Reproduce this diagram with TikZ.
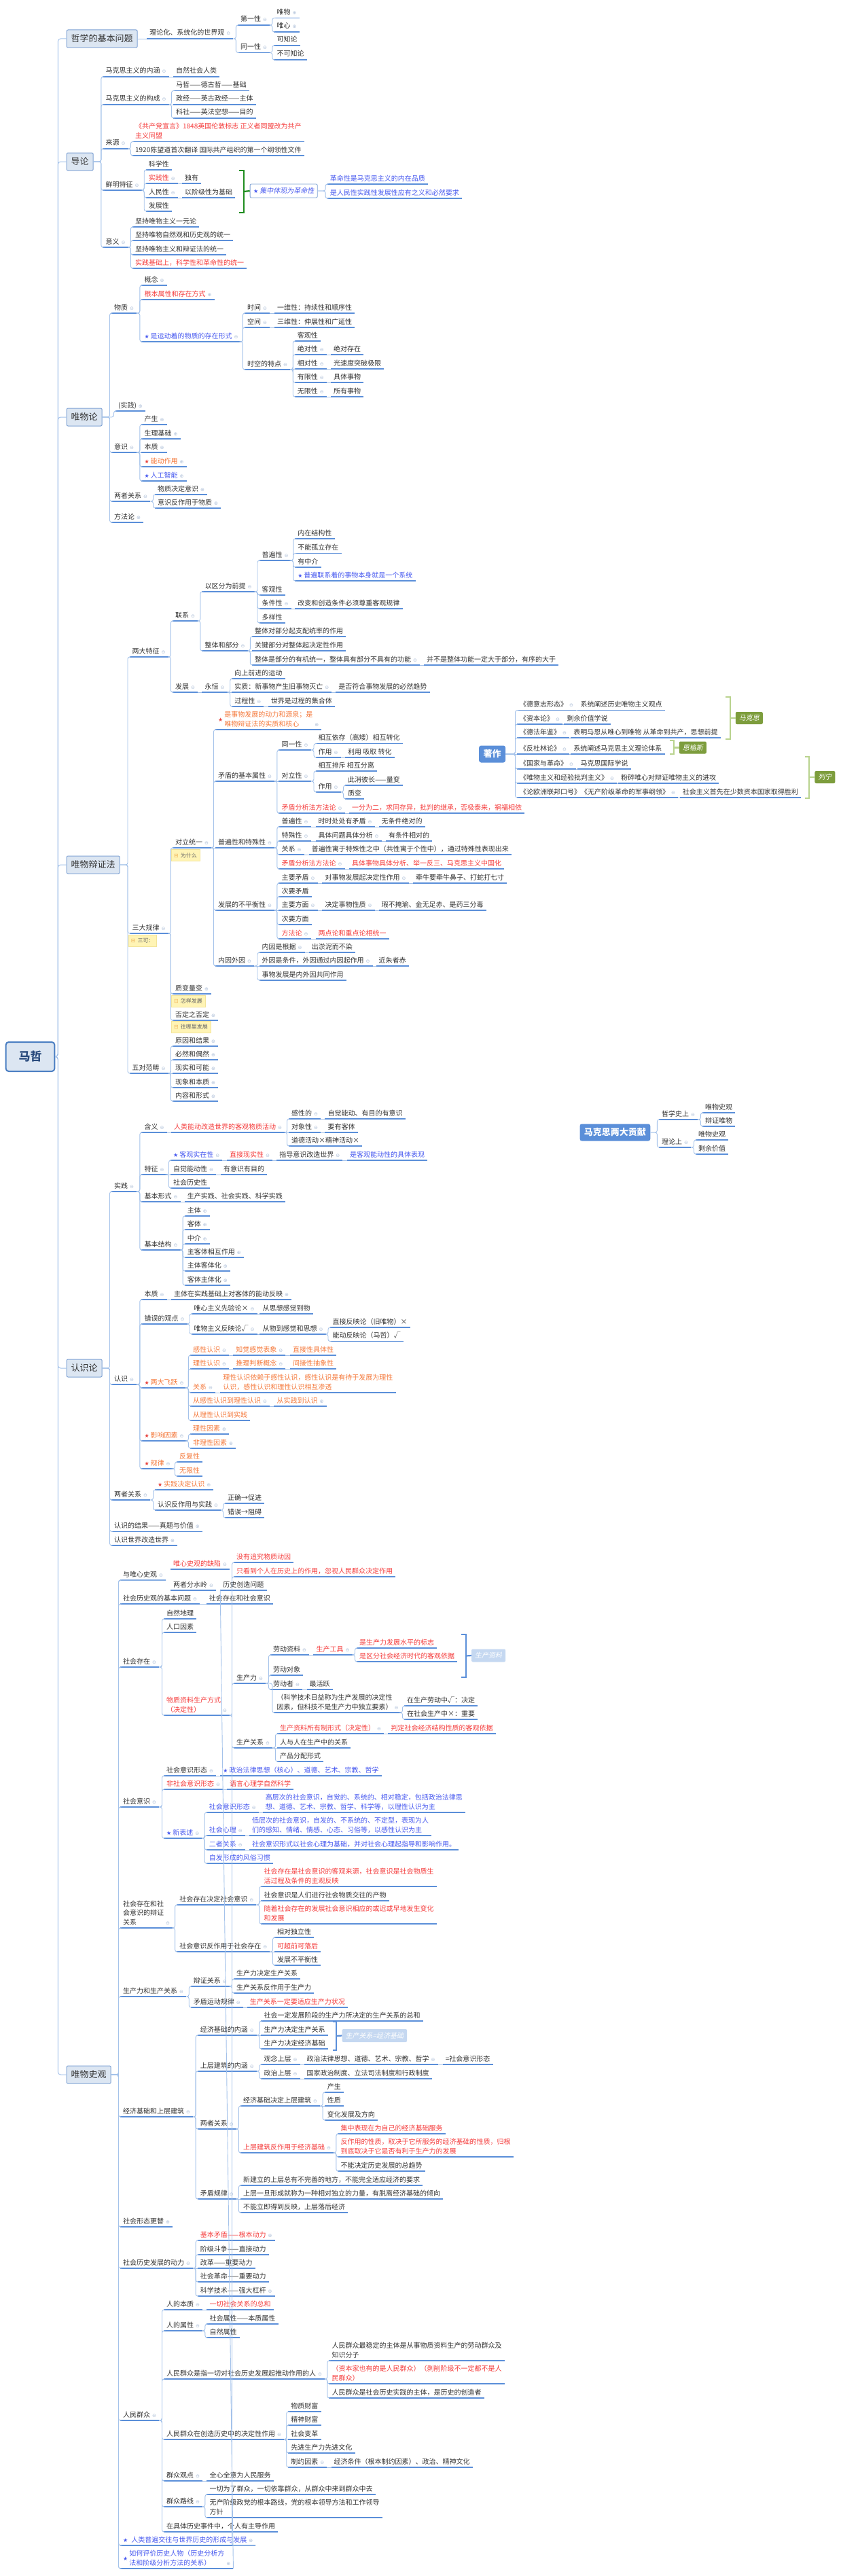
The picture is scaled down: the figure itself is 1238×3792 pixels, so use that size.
\documentclass[tikz,border=0pt]{standalone}
\usepackage{fontspec}
\setmainfont{Noto Sans CJK SC}
\newfontfamily\djv{DejaVu Sans}
\newfontfamily\cjkit{Noto Sans CJK SC}[FakeSlant=0.2]
\definecolor{tx}{HTML}{333333}
\definecolor{rd}{HTML}{F53B3B}
\definecolor{og}{HTML}{F5793B}
\definecolor{bl}{HTML}{4658F0}
\definecolor{strc}{HTML}{E8403A}
\definecolor{ulc}{HTML}{5B8FD9}
\definecolor{cnc}{HTML}{A4C2EA}
\definecolor{mkc}{HTML}{AFC0D9}
\definecolor{boxf}{HTML}{DCE6F2}
\definecolor{boxd}{HTML}{7FA2D4}
\definecolor{rootd}{HTML}{4A7EC2}
\definecolor{rootT}{HTML}{2B4C7E}
\definecolor{gd}{HTML}{1E8C1E}
\definecolor{gl}{HTML}{B9D38E}
\definecolor{gf}{HTML}{7D9D3D}
\definecolor{lbf}{HTML}{C5D8F1}
\definecolor{nf}{HTML}{FFF4B5}
\definecolor{ndc}{HTML}{F3E49A}
\definecolor{nic}{HTML}{F0B860}
\definecolor{sbf}{HTML}{5B8FD9}
\newcommand\MKo{\hspace{3pt}{\djv\fontsize{7}{7}\selectfont\textcolor{mkc}{⊖}}}
\newcommand\MKp{\hspace{3pt}{\djv\fontsize{7}{7}\selectfont\textcolor{mkc}{⊕}}}
\newcommand\STr{{\djv\fontsize{8}{8}\selectfont\textcolor{strc}{★}}\hspace{2pt}}
\newcommand\STb{{\djv\fontsize{8}{8}\selectfont\textcolor{bl}{★}}\hspace{2pt}}
\newcommand\NTi{{\djv\fontsize{8}{8}\selectfont\textcolor{nic}{⊟}}\hspace{3pt}}
\newcommand\MLi[1]{\begin{tabular}[b]{@{}l@{}}#1\end{tabular}}
\tikzset{
 tn/.style={anchor=base west, inner xsep=4pt, inner ysep=1pt, font=\fontsize{10}{13.5}\selectfont, text=tx},
 rdT/.style={text=rd}, ogT/.style={text=og}, blT/.style={text=bl},
 ulst/.style={draw=ulc, line width=1.5pt},
 cnst/.style={draw=cnc, line width=0.9pt, rounded corners=3pt},
 trk/.style={draw=cnc, line width=1pt, rounded corners=4pt},
 mbox/.style={draw=boxd, fill=boxf, line width=1pt, rounded corners=2pt, anchor=west, minimum height=26pt, inner xsep=6.5pt, font=\fontsize{13}{13}\selectfont, text=tx},
 sbox/.style={fill=sbf, rounded corners=3pt, anchor=west, minimum height=25pt, inner xsep=6.4pt, font=\bfseries\fontsize{13}{13}\selectfont, text=white},
 rootst/.style={draw=rootd, fill=boxf, line width=2pt, rounded corners=4pt, minimum width=71.6pt, minimum height=43pt, font=\bfseries\fontsize{17}{17}\selectfont, text=rootT},
 jbox/.style={draw=boxd, fill=white, line width=0.8pt, rounded corners=2pt, anchor=west, minimum height=20pt, inner xsep=5pt, text=bl, font=\fontsize{10}{10}\selectfont},
 ntbox/.style={fill=nf, draw=ndc, line width=0.5pt, anchor=west, minimum height=17pt, inner xsep=4pt, inner ysep=0pt, font=\fontsize{8}{8}\selectfont, text=black!60},
 lblg/.style={fill=gf, rounded corners=2pt, anchor=west, minimum height=18pt, inner xsep=5pt, font=\cjkit\fontsize{10}{10}\selectfont, text=white},
 lblb/.style={fill=lbf, rounded corners=2pt, anchor=west, minimum height=19pt, inner xsep=5pt, font=\cjkit\fontsize{10}{10}\selectfont, text=white},
 brg/.style={draw=gl, line width=2.2pt},
 brd/.style={draw=gd, line width=2.2pt},
 brb/.style={draw=ulc, line width=2.2pt},
}
\newcommand\ND[5][]{\node[tn,#1] (#2) at (#3-4,#4-5) {#5};
 \draw[ulst] ([yshift=-5pt]#2.base west) -- ([yshift=-5pt]#2.base east);}
\newcommand\CNc[2]{\draw[cnst] ([yshift=-5pt]#1.base east) -| ([xshift=-2.5pt,yshift=-5pt]#2.base west) -- ([yshift=-5pt]#2.base west);}
\newcommand\CNs[2]{\draw[cnst] ([yshift=-5pt]#1.base east) -- ([yshift=-5pt]#2.base west);}
\newcommand\CNb[2]{\draw[cnst] (#1.east) -| ([xshift=-2.5pt,yshift=-5pt]#2.base west) -- ([yshift=-5pt]#2.base west);}
\newcommand\CNbs[2]{\draw[cnst] (#1.east) -- ([yshift=-5pt]#2.base west);}
\begin{document}
\begin{tikzpicture}[x=1pt,y=-1pt]
\fill[white] (0,0) rectangle (1238,3792);
\useasboundingbox (0,0) rectangle (1238,3792);

% root
\node[rootst] (root) at (44.5,1555.5) {马哲};

% ===== 哲学的基本问题
\node[mbox] (m1) at (97.7,57) {哲学的基本问题};
\ND{a1}{220.2}{57}{理论化、系统化的世界观\MKo}
\ND{a11}{353.9}{37}{第一性\MKo}
\ND{a111}{407.3}{26.5}{唯物\MKp}
\ND{a112}{407.3}{47}{唯心\MKp}
\ND{a12}{353.9}{77.5}{同一性\MKo}
\ND{a121}{407.3}{67}{可知论}
\ND{a122}{407.3}{88}{不可知论}

% ===== 导论
\node[mbox] (m2) at (97.7,238) {导论};
\ND{b1}{155.4}{113}{马克思主义的内涵\MKo}
\ND{b11}{259}{113}{自然社会人类}
\ND{b2}{155.4}{154}{马克思主义的构成\MKo}
\ND{b21}{259}{133.5}{马哲——德古哲——基础}
\ND{b22}{259}{154}{政经——英古政经——主体}
\ND{b23}{259}{174}{科社——英法空想——目的}
\ND{b3}{155.4}{219}{来源\MKo}
\ND[rdT]{b31}{198.9}{208.5}{\MLi{《共产党宣言》1848英国伦敦标志 正义者同盟改为共产\\主义同盟}}
\ND{b32}{198.9}{229}{1920陈望道首次翻译 国际共产组织的第一个纲领性文件}
\ND{b4}{155.4}{280}{鲜明特征\MKo}
\ND{b41}{218.7}{250}{科学性}
\ND[rdT]{b42}{218.7}{270}{实践性\MKo}
\ND{b421}{272}{270}{独有}
\ND{b43}{218.7}{291}{人民性\MKo}
\ND{b431}{272}{291}{以阶级性为基础}
\ND{b44}{218.7}{311}{发展性}
\ND{b5}{155.4}{364}{意义\MKo}
\ND{b51}{198.9}{334}{坚持唯物主义一元论}
\ND{b52}{198.9}{354}{坚持唯物自然观和历史观的统一}
\ND{b53}{198.9}{375}{坚持唯物主义和辩证法的统一}
\ND[rdT]{b54}{198.9}{395}{实践基础上，科学性和革命性的统一}
\node[jbox] (jz) at (367.7,281) {\STb{}{\cjkit 集中体现为革命性}};
\ND[blT]{j1}{485.6}{271}{革命性是马克思主义的内在品质}
\ND[blT]{j2}{485.6}{292}{是人民性实践性发展性应有之义和必然要求}
\draw[brd] (352,251) -- (359,251) -- (359,313) -- (352,313);
\draw[brd] (359,282) -- (jz.west);

% ===== 唯物论
\node[mbox] (m3) at (97.7,614) {唯物论};
\ND{c1}{168}{461}{物质\MKo}
\ND{c11}{212.3}{420}{概念\MKp}
\ND[rdT]{c12}{212.3}{441}{根本属性和存在方式\MKp}
\ND[blT]{c13}{212.3}{503}{\STb{}是运动着的物质的存在形式\MKo}
\ND{c131}{363.8}{461}{时间\MKo}
\ND{c1311}{408}{461}{一维性：持续性和顺序性}
\ND{c132}{363.8}{482}{空间\MKo}
\ND{c1321}{408}{482}{三维性：伸展性和广延性}
\ND{c133}{363.8}{544}{时空的特点\MKo}
\ND{c1331}{437.7}{502}{客观性}
\ND{c1332}{437.7}{522}{绝对性\MKo}
\ND{c13321}{491}{522}{绝对存在}
\ND{c1333}{437.7}{543}{相对性\MKo}
\ND{c13331}{491}{543}{光速度突破极限}
\ND{c1334}{437.7}{563}{有限性\MKo}
\ND{c13341}{491}{563}{具体事物}
\ND{c1335}{437.7}{584}{无限性\MKo}
\ND{c13351}{491}{584}{所有事物}
\ND{c2}{174}{605}{(实践)\MKp}
\ND{c3}{168}{666}{意识\MKo}
\ND{c31}{212.3}{625}{产生\MKp}
\ND{c32}{212.3}{646}{生理基础\MKp}
\ND{c33}{212.3}{666}{本质\MKp}
\ND[ogT]{c34}{212.3}{687}{\STr{}能动作用\MKp}
\ND[blT]{c35}{212.3}{708}{\STb{}人工智能\MKp}
\ND{c4}{168}{738}{两者关系\MKo}
\ND{c41}{232}{728}{物质决定意识\MKp}
\ND{c42}{232}{748}{意识反作用于物质\MKp}
\ND{c5}{168}{769}{方法论\MKp}

% ===== 唯物辩证法
\node[mbox] (m4) at (97.7,1273) {唯物辩证法};
\ND{d1}{194.5}{967}{两大特征\MKo}
\ND{d11}{257.8}{914}{联系\MKo}
\ND{d111}{301.3}{871}{以区分为前提\MKo}
\ND{d1111}{385.5}{825}{普遍性\MKo}
\ND{d11111}{438.1}{793}{内在结构性}
\ND{d11112}{438.1}{814.5}{不能孤立存在}
\ND{d11113}{438.1}{835}{有中介}
\ND[blT]{d11114}{438.1}{855}{\STb{}普遍联系着的事物本身就是一个系统}
\ND{d1112}{385.5}{876}{客观性}
\ND{d1113}{385.5}{896}{条件性\MKo}
\ND{d11131}{438.1}{896}{改变和创造条件必须尊重客观规律}
\ND{d1114}{385.5}{917}{多样性}
\ND{d112}{301.3}{958}{整体和部分\MKo}
\ND{d1121}{374.8}{937}{整体对部分起支配统率的作用}
\ND{d1122}{374.8}{958}{关键部分对整体起决定性作用}
\ND{d1123}{374.8}{979}{整体是部分的有机统一，整体具有部分不具有的功能\MKo}
\ND{d11231}{627.9}{979}{并不是整体功能一定大于部分，有序的大于}
\ND{d12}{257.8}{1019}{发展\MKo}
\ND{d121}{301.3}{1019}{永恒\MKo}
\ND{d1211}{345.2}{999}{向上前进的运动}
\ND{d1212}{345.2}{1019}{实质：新事物产生旧事物灭亡\MKo}
\ND{d12121}{498.2}{1019}{是否符合事物发展的必然趋势}
\ND{d1213}{345.2}{1040}{过程性\MKo}
\ND{d12131}{398.6}{1040}{世界是过程的集合体}
\ND{d2}{194.5}{1374}{三大规律\MKo}
\ND{d21}{257.8}{1248}{对立统一\MKo}
\ND[ogT]{d211}{321}{1074}{\raisebox{6.75pt}{\STr}\MLi{是事物发展的动力和源泉；是\\唯物辩证法的实质和核心}\MKp}
\ND{d212}{321}{1150}{矛盾的基本属性\MKo}
\ND{d2121}{414.4}{1104}{同一性\MKo}
\ND{d21211}{468.5}{1094.5}{相互依存（高矮）相互转化}
\ND{d21212}{468.5}{1115}{作用\MKo}
\ND{d212121}{512}{1115}{利用 吸取 转化}
\ND{d2122}{414.4}{1150}{对立性\MKo}
\ND{d21221}{468.5}{1135}{相互排斥 相互分离}
\ND{d21222}{468.5}{1166}{作用\MKo}
\ND{d212221}{512}{1156}{此消彼长——量变}
\ND{d212222}{512}{1176}{质变}
\ND[rdT]{d2123}{414.4}{1197}{矛盾分析法方法论\MKo}
\ND[rdT]{d21231}{518}{1197}{一分为二，求同存异，批判的继承，否极泰来，祸福相依}
\ND{d213}{321}{1248}{普遍性和特殊性\MKo}
\ND{d2131}{414.4}{1217}{普遍性\MKo}
\ND{d21311}{468.5}{1217}{时时处处有矛盾\MKo}
\ND{d213111}{561.5}{1217}{无条件绝对的}
\ND{d2132}{414.4}{1238}{特殊性\MKo}
\ND{d21321}{468.5}{1238}{具体问题具体分析\MKo}
\ND{d213211}{572}{1238}{有条件相对的}
\ND{d2133}{414.4}{1258}{关系\MKo}
\ND{d21331}{458.7}{1258}{普遍性寓于特殊性之中（共性寓于个性中），通过特殊性表现出来}
\ND[rdT]{d2134}{414.4}{1279}{矛盾分析法方法论\MKo}
\ND[rdT]{d21341}{518}{1279}{具体事物具体分析、举一反三、马克思主义中国化}
\ND{d214}{321}{1340}{发展的不平衡性\MKo}
\ND{d2141}{414.4}{1300}{主要矛盾\MKo}
\ND{d21411}{478.4}{1300}{对事物发展起决定性作用\MKo}
\ND{d214111}{612}{1300}{牵牛要牵牛鼻子、打蛇打七寸}
\ND{d2142}{414.4}{1320}{次要矛盾}
\ND{d2143}{414.4}{1340}{主要方面\MKo}
\ND{d21431}{478.4}{1340}{决定事物性质\MKo}
\ND{d214311}{561.5}{1340}{瑕不掩瑜、金无足赤、是药三分毒}
\ND{d2144}{414.4}{1361}{次要方面}
\ND[rdT]{d2145}{414.4}{1382}{方法论\MKo}
\ND[rdT]{d21451}{468.5}{1382}{两点论和重点论相统一}
\ND{d215}{321}{1422}{内因外因\MKo}
\ND{d2151}{385.5}{1402}{内因是根据\MKo}
\ND{d21511}{458.7}{1402}{出淤泥而不染}
\ND{d2152}{385.5}{1422}{外因是条件，外因通过内因起作用\MKo}
\ND{d21521}{557.5}{1422}{近朱者赤}
\ND{d2153}{385.5}{1443}{事物发展是内外因共同作用}
\ND{d22}{257.8}{1463}{质变量变\MKp}
\ND{d23}{257.8}{1502}{否定之否定\MKp}
\ND{d3}{194.5}{1580}{五对范畴\MKo}
\ND{d31}{257.8}{1540}{原因和结果\MKp}
\ND{d32}{257.8}{1560}{必然和偶然\MKp}
\ND{d33}{257.8}{1580}{现实和可能\MKp}
\ND{d34}{257.8}{1601}{现象和本质\MKp}
\ND{d35}{257.8}{1621}{内容和形式\MKp}
\node[ntbox] (n1) at (188.6,1384.5) {\NTi{}三可：};
\node[ntbox] (n2) at (251.9,1259) {\NTi{}为什么};
\node[ntbox] (n3) at (251.9,1473.5) {\NTi{}怎样发展};
\node[ntbox] (n4) at (251.9,1511.5) {\NTi{}往哪里发展};

% ===== 著作
\node[sbox] (zz) at (705,1110) {著作};
\ND{e1}{765}{1045.5}{《德意志形态》\MKo}
\ND{e11}{854.4}{1045.5}{系统阐述历史唯物主义观点}
\ND{e2}{765}{1066}{《资本论》\MKo}
\ND{e21}{834.3}{1066}{剩余价值学说}
\ND{e3}{765}{1086}{《德法年鉴》\MKo}
\ND{e31}{844.2}{1086}{表明马恩从唯心到唯物 从革命到共产，思想前提}
\ND{e4}{765}{1110}{《反杜林论》\MKo}
\ND{e41}{844.2}{1110}{系统阐述马克思主义理论体系}
\ND{e5}{765}{1132}{《国家与革命》\MKo}
\ND{e51}{854.4}{1132}{马克思国际学说}
\ND{e6}{765}{1153}{《唯物主义和经验批判主义》\MKo}
\ND{e61}{913.8}{1153}{粉碎唯心对辩证唯物主义的进攻}
\ND{e7}{765}{1174}{《论欧洲联邦口号》《无产阶级革命的军事纲领》\MKo}
\ND{e71}{1004.7}{1174}{社会主义首先在少数资本国家取得胜利}
\node[lblg] (lk1) at (1082.6,1057) {马克思};
\node[lblg] (lk2) at (999.6,1100.5) {恩格斯};
\node[lblg] (lk3) at (1199.2,1144) {列宁};
\draw[brg] (1068,1026) -- (1074.7,1026) -- (1074.7,1088) -- (1068,1088);
\draw[brg] (1074.7,1057) -- (lk1.west);
\draw[brg] (985.7,1090) -- (991.7,1090) -- (991.7,1110) -- (985.7,1110);
\draw[brg] (991.7,1100.5) -- (lk2.west);
\draw[brg] (1185.4,1114) -- (1191.3,1114) -- (1191.3,1175) -- (1185.4,1175);
\draw[brg] (1191.3,1144) -- (lk3.west);

% ===== 马克思两大贡献
\node[sbox] (mk) at (853.3,1667) {马克思两大贡献};
\ND{f1}{973.9}{1648}{哲学史上\MKo}
\ND{f11}{1037.9}{1638}{唯物史观}
\ND{f12}{1037.9}{1658}{辩证唯物}
\ND{f2}{973.9}{1689}{理论上\MKo}
\ND{f21}{1028}{1678}{唯物史观}
\ND{f22}{1028}{1699}{剩余价值}

% ===== 认识论
\node[mbox] (m5) at (97.7,2014) {认识论};
\ND{g1}{168}{1754}{实践\MKo}
\ND{g11}{212.3}{1667}{含义\MKo}
\ND[rdT]{g111}{255.8}{1667}{人类能动改造世界的客观物质活动\MKo}
\ND{g1111}{429}{1647}{感性的\MKo}
\ND{g11111}{482.4}{1647}{自觉能动、有目的有意识}
\ND{g1112}{429}{1667}{对象性\MKo}
\ND{g11121}{482.4}{1667}{要有客体}
\ND{g1113}{429}{1687}{道德活动×精神活动×}
\ND{g12}{212.3}{1729}{特征\MKo}
\ND[blT]{g121}{255}{1708}{\STb{}客观实在性\MKo}
\ND[rdT]{g1211}{338}{1708}{直接现实性\MKo}
\ND{g12111}{411.2}{1708}{指导意识改造世界\MKo}
\ND[blT]{g121111}{514.8}{1708}{是客观能动性的具体表现}
\ND{g122}{255}{1729}{自觉能动性\MKo}
\ND{g1221}{329}{1729}{有意识有目的}
\ND{g123}{255}{1749}{社会历史性}
\ND{g13}{212.3}{1769}{基本形式\MKo}
\ND{g131}{275.6}{1769}{生产实践、社会实践、科学实践}
\ND{g14}{212.3}{1840}{基本结构\MKo}
\ND{g141}{275.6}{1790}{主体\MKp}
\ND{g142}{275.6}{1810}{客体\MKp}
\ND{g143}{275.6}{1831}{中介\MKp}
\ND{g144}{275.6}{1851}{主客体相互作用\MKp}
\ND{g145}{275.6}{1871}{主体客体化\MKp}
\ND{g146}{275.6}{1892}{客体主体化\MKp}
\ND{g2}{168}{2038}{认识\MKo}
\ND{g21}{212.3}{1913}{本质\MKo}
\ND{g211}{255.8}{1913}{主体在实践基础上对客体的能动反映\MKp}
\ND{g22}{212.3}{1949}{错误的观点\MKo}
\ND{g221}{285.5}{1934}{唯心主义先验论×\MKo}
\ND{g2211}{386.3}{1934}{从思想感觉到物}
\ND{g222}{285.5}{1964}{唯物主义反映论√\MKo}
\ND{g2221}{386.3}{1964}{从物到感觉和思想\MKo}
\ND{g22211}{489.5}{1954}{直接反映论（旧唯物）×}
\ND{g22212}{489.5}{1974.5}{能动反映论（马哲）√}
\ND[ogT]{g23}{212.3}{2043}{\STr{}两大飞跃\MKo}
\ND[ogT]{g231}{283.9}{1995}{感性认识\MKo}
\ND[ogT]{g2311}{347.2}{1995}{知觉感觉表象\MKo}
\ND[ogT]{g23111}{431}{1995}{直接性具体性}
\ND[ogT]{g232}{283.9}{2015}{理性认识\MKo}
\ND[ogT]{g2321}{347.2}{2015}{推理判断概念\MKo}
\ND[ogT]{g23211}{431}{2015}{间接性抽象性}
\ND[ogT]{g233}{283.9}{2050}{关系\MKo}
\ND[ogT]{g2331}{328.2}{2050}{\MLi{理性认识依赖于感性认识，感性认识是有待于发展为理性\\认识，感性认识和理性认识相互渗透}}
\ND[ogT]{g234}{283.9}{2070}{从感性认识到理性认识\MKo}
\ND[ogT]{g2341}{407.3}{2070}{从实践到认识\MKp}
\ND[ogT]{g235}{283.9}{2091}{从理性认识到实践}
\ND[ogT]{g24}{212.3}{2121}{\STr{}影响因素\MKo}
\ND[ogT]{g241}{283.9}{2111}{理性因素\MKp}
\ND[ogT]{g242}{283.9}{2132}{非理性因素\MKp}
\ND[ogT]{g25}{212.3}{2162}{\STr{}规律\MKo}
\ND[ogT]{g251}{264}{2152}{反复性}
\ND[ogT]{g252}{264}{2173}{无限性}
\ND{g3}{168}{2208}{两者关系\MKo}
\ND[ogT]{g31}{232}{2193}{\STr{}实践决定认识\MKp}
\ND{g32}{232}{2223}{认识反作用与实践\MKo}
\ND{g321}{335}{2213}{正确→促进}
\ND{g322}{335}{2234}{错误→阻碍}
\ND{g4}{168}{2254.5}{认识的结果——真题与价值\MKp}
\ND{g5}{168}{2275}{认识世界改造世界\MKp}

% ===== 唯物史观
\node[mbox] (m6) at (97.7,3054) {唯物史观};
\ND{h1}{181}{2326}{与唯心史观\MKo}
\ND[rdT]{h11}{255}{2310}{唯心史观的缺陷\MKo}
\ND[rdT]{h111}{348}{2300}{没有追究物质动因}
\ND[rdT]{h112}{348}{2321}{只看到个人在历史上的作用，忽视人民群众决定作用}
\ND{h12}{255}{2341}{两者分水岭\MKo}
\ND{h121}{328.2}{2341}{历史创造问题}
\ND{h2}{181}{2361}{社会历史观的基本问题\MKo}
\ND{h21}{307.6}{2361}{社会存在和社会意识}
\ND{h3}{181}{2454}{社会存在\MKo}
\ND{h31}{245}{2383}{自然地理}
\ND{h32}{245}{2403}{人口因素}
\ND[rdT]{h33}{245}{2525}{\MLi{物质资料生产方式\\（决定性）}\MKo}
\ND{h331}{348}{2478}{生产力\MKo}
\ND{h3311}{402}{2436}{劳动资料\MKo}
\ND[rdT]{h33111}{465.4}{2436}{生产工具\MKo}
\ND[rdT]{h331111}{529}{2426}{是生产力发展水平的标志}
\ND[rdT]{h331112}{529}{2446}{是区分社会经济时代的客观依据}
\ND{h3312}{402}{2466}{劳动对象}
\ND{h3313}{402}{2487}{劳动者\MKo}
\ND{h33131}{455.5}{2487}{最活跃}
\ND{h3314}{407.3}{2521}{\MLi{（科学技术日益称为生产发展的决定性\\因素，但科技不是生产力中独立要素）}\MKo}
\ND{h33141}{599}{2511}{在生产劳动中√：决定}
\ND{h33142}{599}{2531}{在社会生产中×：重要}
\ND{h332}{348}{2573}{生产关系\MKo}
\ND[rdT]{h3321}{412}{2552}{生产资料所有制形式（决定性）\MKo}
\ND[rdT]{h33211}{575.3}{2552}{判定社会经济结构性质的客观依据}
\ND{h3322}{412}{2573}{人与人在生产中的关系}
\ND{h3323}{412}{2593}{产品分配形式}
\node[lblb] (lp) at (693.9,2437) {生产资料};
\draw[brb] (679.3,2406) -- (686,2406) -- (686,2469) -- (679.3,2469);
\draw[brb] (686,2437.5) -- (lp.west);
\ND{h4}{181}{2660}{社会意识\MKo}
\ND{h41}{245}{2614}{社会意识形态\MKo}
\ND[blT]{h411}{328.2}{2614}{\STb{}政治法律思想（核心）、道德、艺术、宗教、哲学}
\ND[rdT]{h42}{245}{2634}{非社会意识形态\MKo}
\ND[rdT]{h421}{338}{2634}{语言心理学自然科学}
\ND[blT]{h43}{245}{2706}{\STb{}新表述\MKo}
\ND[blT]{h431}{307.6}{2668}{社会意识形态\MKo}
\ND[blT]{h4311}{390.6}{2668}{\MLi{高层次的社会意识，自觉的、系统的、相对稳定，包括政治法律思\\想、道德、艺术、宗教、哲学、科学等，以理性认识为主}}
\ND[blT]{h432}{307.6}{2702}{社会心理\MKo}
\ND[blT]{h4321}{370.9}{2702}{\MLi{低层次的社会意识，自发的、不系统的、不定型，表现为人\\们的感知、情绪、情感、心态、习俗等，以感性认识为主}}
\ND[blT]{h433}{307.6}{2723}{二者关系\MKo}
\ND[blT]{h4331}{370.9}{2723}{社会意识形式以社会心理为基础，并对社会心理起指导和影响作用。}
\ND[blT]{h434}{307.6}{2743}{自发形成的风俗习惯}
\ND{h5}{181}{2838}{\MLi{社会存在和社\\会意识的辩证\\关系}\MKo}
\ND{h51}{264.1}{2804}{社会存在决定社会意识\MKo}
\ND[rdT]{h511}{388.3}{2777}{\MLi{社会存在是社会意识的客观来源，社会意识是社会物质生\\活过程及条件的主观反映}}
\ND{h512}{388.3}{2798}{社会意识是人们进行社会物质交往的产物}
\ND[rdT]{h513}{388.3}{2832}{\MLi{随着社会存在的发展社会意识相应的或迟或早地发生变化\\和发展}}
\ND{h52}{264.1}{2873}{社会意识反作用于社会存在\MKo}
\ND{h521}{408}{2852}{相对独立性}
\ND[rdT]{h522}{408}{2873}{可超前可落后}
\ND{h523}{408}{2893}{发展不平衡性}
\ND{h6}{181}{2939}{生产力和生产关系\MKo}
\ND{h61}{284.7}{2924}{辩证关系\MKo}
\ND{h611}{348}{2913}{生产力决定生产关系}
\ND{h612}{348}{2934}{生产关系反作用于生产力}
\ND{h62}{284.7}{2955}{矛盾运动规律\MKo}
\ND[rdT]{h621}{367.7}{2955}{生产关系一定要适应生产力状况}
\ND{h7}{181}{3116}{经济基础和上层建筑\MKo}
\ND{h71}{294.6}{2996}{经济基础的内涵\MKo}
\ND{h711}{388.3}{2975}{社会一定发展阶段的生产力所决定的生产关系的总和}
\ND{h712}{388.3}{2996}{生产力决定生产关系}
\ND{h713}{388.3}{3016}{生产力决定经济基础}
\node[lblb] (lq) at (503.4,2996.5) {生产关系=经济基础};
\draw[brb] (489.5,2976) -- (495,2976) -- (495,3018) -- (489.5,3018);
\draw[brb] (495,2997) -- (lq.west);
\ND{h72}{294.6}{3049}{上层建筑的内涵\MKo}
\ND{h721}{388.3}{3039}{观念上层\MKo}
\ND{h7211}{451.5}{3039}{政治法律思想、道德、艺术、宗教、哲学\MKo}
\ND{h72111}{655.6}{3039}{=社会意识形态}
\ND{h722}{388.3}{3060}{政治上层\MKo}
\ND{h7221}{451.5}{3060}{国家政治制度、立法司法制度和行政制度}
\ND{h73}{294.6}{3134}{两者关系\MKo}
\ND{h731}{357.8}{3100}{经济基础决定上层建筑\MKo}
\ND{h7311}{481.6}{3080}{产生}
\ND{h7312}{481.6}{3100}{性质}
\ND{h7313}{481.6}{3121}{变化发展及方向}
\ND[rdT]{h732}{357.8}{3169}{上层建筑反作用于经济基础\MKo}
\ND[rdT]{h7321}{501.4}{3141}{集中表现在为自己的经济基础服务}
\ND[rdT]{h7322}{501.4}{3175}{\MLi{反作用的性质，取决于它所服务的经济基础的性质，归根\\到底取决于它是否有利于生产力的发展}}
\ND{h7323}{501.4}{3196}{不能决定历史发展的总趋势}
\ND{h74}{294.6}{3237}{矛盾规律\MKo}
\ND{h741}{357.8}{3217}{新建立的上层总有不完善的地方，不能完全适应经济的要求}
\ND{h742}{357.8}{3237}{上层一旦形成就称为一种相对独立的力量，有脱离经济基础的倾向}
\ND{h743}{357.8}{3257}{不能立即得到反映，上层落后经济}
\ND{h8}{181}{3278}{社会形态更替\MKp}
\ND{h9}{181}{3339}{社会历史发展的动力\MKo}
\ND[rdT]{h91}{294.6}{3298}{基本矛盾——根本动力\MKp}
\ND{h92}{294.6}{3319}{阶级斗争——直接动力}
\ND{h93}{294.6}{3339}{改革——重要动力}
\ND{h94}{294.6}{3359}{社会革命——重要动力}
\ND{h95}{294.6}{3380}{科学技术——强大杠杆\MKp}
\ND{h10}{181}{3563}{人民群众\MKo}
\ND{h101}{245}{3400}{人的本质\MKo}
\ND[rdT]{h1011}{308.4}{3400}{一切社会关系的总和}
\ND{h102}{245}{3431}{人的属性\MKo}
\ND{h1021}{308.4}{3421}{社会属性——本质属性}
\ND{h1022}{308.4}{3441}{自然属性}
\ND{h103}{245}{3502}{人民群众是指一切对社会历史发展起推动作用的人\MKo}
\ND{h1031}{488.3}{3475}{\MLi{人民群众最稳定的主体是从事物质资料生产的劳动群众及\\知识分子}}
\ND[rdT]{h1032}{488.3}{3509}{\MLi{（资本家也有的是人民群众）（剥削阶级不一定都不是人\\民群众）}}
\ND{h1033}{488.3}{3530}{人民群众是社会历史实践的主体，是历史的创造者}
\ND{h104}{245}{3591}{人民群众在创造历史中的决定性作用\MKo}
\ND{h1041}{428.2}{3550}{物质财富}
\ND{h1042}{428.2}{3570}{精神财富}
\ND{h1043}{428.2}{3591}{社会变革}
\ND{h1044}{428.2}{3611}{先进生产力先进文化}
\ND{h1045}{428.2}{3632}{制约因素\MKo}
\ND{h10451}{491.5}{3632}{经济条件（根本制约因素）、政治、精神文化}
\ND{h105}{245}{3652}{群众观点\MKo}
\ND{h1051}{308.4}{3652}{全心全意为人民服务}
\ND{h106}{245}{3690}{群众路线\MKo}
\ND{h1061}{308.4}{3672}{一切为了群众，一切依靠群众，从群众中来到群众中去}
\ND{h1062}{308.4}{3706}{\MLi{无产阶级政党的根本路线，党的根本领导方法和工作领导\\方针}}
\ND{h107}{245}{3727}{在具体历史事件中，个人有主导作用}
\ND[blT]{h11}{181}{3747}{\STb\hspace{3pt}人类普遍交往与世界历史的形成与发展\MKp}
\ND[blT]{h12}{181}{3781}{\raisebox{6.75pt}{\STb}\MLi{如何评价历史人物（历史分析方\\法和阶级分析方法的关系）}\MKp}

% ===== connectors
\foreach \m in {m1,m2,m3,m4,m5,m6} {\draw[trk] (root.east) -- ++(4,0) |- (\m.west);}
\CNbs{m1}{a1} \CNc{a1}{a11} \CNc{a1}{a12}
\CNc{a11}{a111} \CNc{a11}{a112} \CNc{a12}{a121} \CNc{a12}{a122}

\CNb{m2}{b1} \CNb{m2}{b2} \CNb{m2}{b3} \CNb{m2}{b4} \CNb{m2}{b5}
\CNs{b1}{b11} \CNc{b2}{b21} \CNs{b2}{b22} \CNc{b2}{b23}
\CNc{b3}{b31} \CNc{b3}{b32}
\CNc{b4}{b41} \CNc{b4}{b42} \CNc{b4}{b43} \CNc{b4}{b44}
\CNs{b42}{b421} \CNs{b43}{b431}
\CNc{b5}{b51} \CNc{b5}{b52} \CNc{b5}{b53} \CNc{b5}{b54}
\CNb{jz}{j1} \CNb{jz}{j2}

\CNb{m3}{c1} \CNb{m3}{c2} \CNb{m3}{c3} \CNb{m3}{c4} \CNb{m3}{c5}
\CNc{c1}{c11} \CNc{c1}{c12} \CNc{c1}{c13}
\CNc{c13}{c131} \CNc{c13}{c132} \CNc{c13}{c133}
\CNs{c131}{c1311} \CNs{c132}{c1321}
\CNc{c133}{c1331} \CNc{c133}{c1332} \CNc{c133}{c1333} \CNc{c133}{c1334} \CNc{c133}{c1335}
\CNs{c1332}{c13321} \CNs{c1333}{c13331} \CNs{c1334}{c13341} \CNs{c1335}{c13351}
\CNc{c3}{c31} \CNc{c3}{c32} \CNs{c3}{c33} \CNc{c3}{c34} \CNc{c3}{c35}
\CNc{c4}{c41} \CNc{c4}{c42}

\CNb{m4}{d1} \CNb{m4}{d2} \CNb{m4}{d3}
\CNc{d1}{d11} \CNc{d1}{d12}
\CNc{d11}{d111} \CNc{d11}{d112}
\CNc{d111}{d1111} \CNc{d111}{d1112} \CNc{d111}{d1113} \CNc{d111}{d1114}
\CNc{d1111}{d11111} \CNc{d1111}{d11112} \CNc{d1111}{d11113} \CNc{d1111}{d11114}
\CNs{d1113}{d11131}
\CNc{d112}{d1121} \CNs{d112}{d1122} \CNc{d112}{d1123} \CNs{d1123}{d11231}
\CNs{d12}{d121} \CNc{d121}{d1211} \CNs{d121}{d1212} \CNc{d121}{d1213}
\CNs{d1212}{d12121} \CNs{d1213}{d12131}
\CNc{d2}{d21} \CNc{d2}{d22} \CNc{d2}{d23}
\CNc{d21}{d211} \CNc{d21}{d212} \CNs{d21}{d213} \CNc{d21}{d214} \CNc{d21}{d215}
\CNc{d212}{d2121} \CNs{d212}{d2122} \CNc{d212}{d2123}
\CNc{d2121}{d21211} \CNc{d2121}{d21212} \CNs{d21212}{d212121}
\CNc{d2122}{d21221} \CNc{d2122}{d21222}
\CNc{d21222}{d212221} \CNc{d21222}{d212222}
\CNs{d2123}{d21231}
\CNc{d213}{d2131} \CNc{d213}{d2132} \CNc{d213}{d2133} \CNc{d213}{d2134}
\CNs{d2131}{d21311} \CNs{d21311}{d213111}
\CNs{d2132}{d21321} \CNs{d21321}{d213211}
\CNs{d2133}{d21331} \CNs{d2134}{d21341}
\CNc{d214}{d2141} \CNc{d214}{d2142} \CNs{d214}{d2143} \CNc{d214}{d2144} \CNc{d214}{d2145}
\CNs{d2141}{d21411} \CNs{d21411}{d214111}
\CNs{d2143}{d21431} \CNs{d21431}{d214311}
\CNs{d2145}{d21451}
\CNc{d215}{d2151} \CNs{d215}{d2152} \CNc{d215}{d2153}
\CNs{d2151}{d21511} \CNs{d2152}{d21521}
\CNc{d3}{d31} \CNc{d3}{d32} \CNs{d3}{d33} \CNc{d3}{d34} \CNc{d3}{d35}

\CNb{zz}{e1} \CNb{zz}{e2} \CNb{zz}{e3} \CNbs{zz}{e4} \CNb{zz}{e5} \CNb{zz}{e6} \CNb{zz}{e7}
\CNs{e1}{e11} \CNs{e2}{e21} \CNs{e3}{e31} \CNs{e4}{e41} \CNs{e5}{e51} \CNs{e6}{e61} \CNs{e7}{e71}

\CNb{mk}{f1} \CNb{mk}{f2}
\CNc{f1}{f11} \CNc{f1}{f12} \CNc{f2}{f21} \CNc{f2}{f22}

\CNb{m5}{g1} \CNb{m5}{g2} \CNb{m5}{g3} \CNb{m5}{g4} \CNb{m5}{g5}
\CNc{g1}{g11} \CNc{g1}{g12} \CNc{g1}{g13} \CNc{g1}{g14}
\CNs{g11}{g111}
\CNc{g111}{g1111} \CNs{g111}{g1112} \CNc{g111}{g1113}
\CNs{g1111}{g11111} \CNs{g1112}{g11121}
\CNc{g12}{g121} \CNs{g12}{g122} \CNc{g12}{g123}
\CNs{g121}{g1211} \CNs{g1211}{g12111} \CNs{g12111}{g121111}
\CNs{g122}{g1221}
\CNs{g13}{g131}
\CNc{g14}{g141} \CNc{g14}{g142} \CNc{g14}{g143} \CNc{g14}{g144} \CNc{g14}{g145} \CNc{g14}{g146}
\CNc{g2}{g21} \CNc{g2}{g22} \CNc{g2}{g23} \CNc{g2}{g24} \CNc{g2}{g25}
\CNs{g21}{g211}
\CNc{g22}{g221} \CNc{g22}{g222}
\CNs{g221}{g2211} \CNs{g222}{g2221}
\CNc{g2221}{g22211} \CNc{g2221}{g22212}
\CNc{g23}{g231} \CNc{g23}{g232} \CNc{g23}{g233} \CNc{g23}{g234} \CNc{g23}{g235}
\CNs{g231}{g2311} \CNs{g2311}{g23111}
\CNs{g232}{g2321} \CNs{g2321}{g23211}
\CNs{g233}{g2331} \CNs{g234}{g2341}
\CNc{g24}{g241} \CNc{g24}{g242}
\CNc{g25}{g251} \CNc{g25}{g252}
\CNc{g3}{g31} \CNc{g3}{g32}
\CNc{g32}{g321} \CNc{g32}{g322}

\foreach \h in {h1,h2,h3,h4,h5,h6,h7,h8,h9,h10,h11,h12} {\CNb{m6}{\h}}
\CNc{h1}{h11} \CNc{h1}{h12}
\CNc{h11}{h111} \CNc{h11}{h112}
\CNs{h12}{h121} \CNs{h2}{h21}
\CNc{h3}{h31} \CNc{h3}{h32} \CNc{h3}{h33}
\CNc{h33}{h331} \CNc{h33}{h332}
\CNc{h331}{h3311} \CNc{h331}{h3312} \CNc{h331}{h3313} \CNc{h331}{h3314}
\CNs{h3311}{h33111}
\CNc{h33111}{h331111} \CNc{h33111}{h331112}
\CNs{h3313}{h33131}
\CNc{h3314}{h33141} \CNc{h3314}{h33142}
\CNc{h332}{h3321} \CNs{h332}{h3322} \CNc{h332}{h3323}
\CNs{h3321}{h33211}
\CNc{h4}{h41} \CNc{h4}{h42} \CNc{h4}{h43}
\CNs{h41}{h411} \CNs{h42}{h421}
\CNc{h43}{h431} \CNc{h43}{h432} \CNc{h43}{h433} \CNc{h43}{h434}
\CNs{h431}{h4311} \CNs{h432}{h4321} \CNs{h433}{h4331}
\CNc{h5}{h51} \CNc{h5}{h52}
\CNc{h51}{h511} \CNc{h51}{h512} \CNc{h51}{h513}
\CNc{h52}{h521} \CNs{h52}{h522} \CNc{h52}{h523}
\CNc{h6}{h61} \CNc{h6}{h62}
\CNc{h61}{h611} \CNc{h61}{h612}
\CNs{h62}{h621}
\CNc{h7}{h71} \CNc{h7}{h72} \CNc{h7}{h73} \CNc{h7}{h74}
\CNc{h71}{h711} \CNs{h71}{h712} \CNc{h71}{h713}
\CNc{h72}{h721} \CNc{h72}{h722}
\CNs{h721}{h7211} \CNs{h7211}{h72111} \CNs{h722}{h7221}
\CNc{h73}{h731} \CNc{h73}{h732}
\CNc{h731}{h7311} \CNs{h731}{h7312} \CNc{h731}{h7313}
\CNc{h732}{h7321} \CNc{h732}{h7322} \CNc{h732}{h7323}
\CNc{h74}{h741} \CNs{h74}{h742} \CNc{h74}{h743}
\CNc{h9}{h91} \CNc{h9}{h92} \CNs{h9}{h93} \CNc{h9}{h94} \CNc{h9}{h95}
\CNc{h10}{h101} \CNc{h10}{h102} \CNc{h10}{h103} \CNc{h10}{h104} \CNc{h10}{h105} \CNc{h10}{h106} \CNc{h10}{h107}
\CNs{h101}{h1011}
\CNc{h102}{h1021} \CNc{h102}{h1022}
\CNc{h103}{h1031} \CNc{h103}{h1032} \CNc{h103}{h1033}
\CNc{h104}{h1041} \CNc{h104}{h1042} \CNs{h104}{h1043} \CNc{h104}{h1044} \CNc{h104}{h1045}
\CNs{h1045}{h10451}
\CNs{h105}{h1051}
\CNc{h106}{h1061} \CNc{h106}{h1062}
\end{tikzpicture}
\end{document}
